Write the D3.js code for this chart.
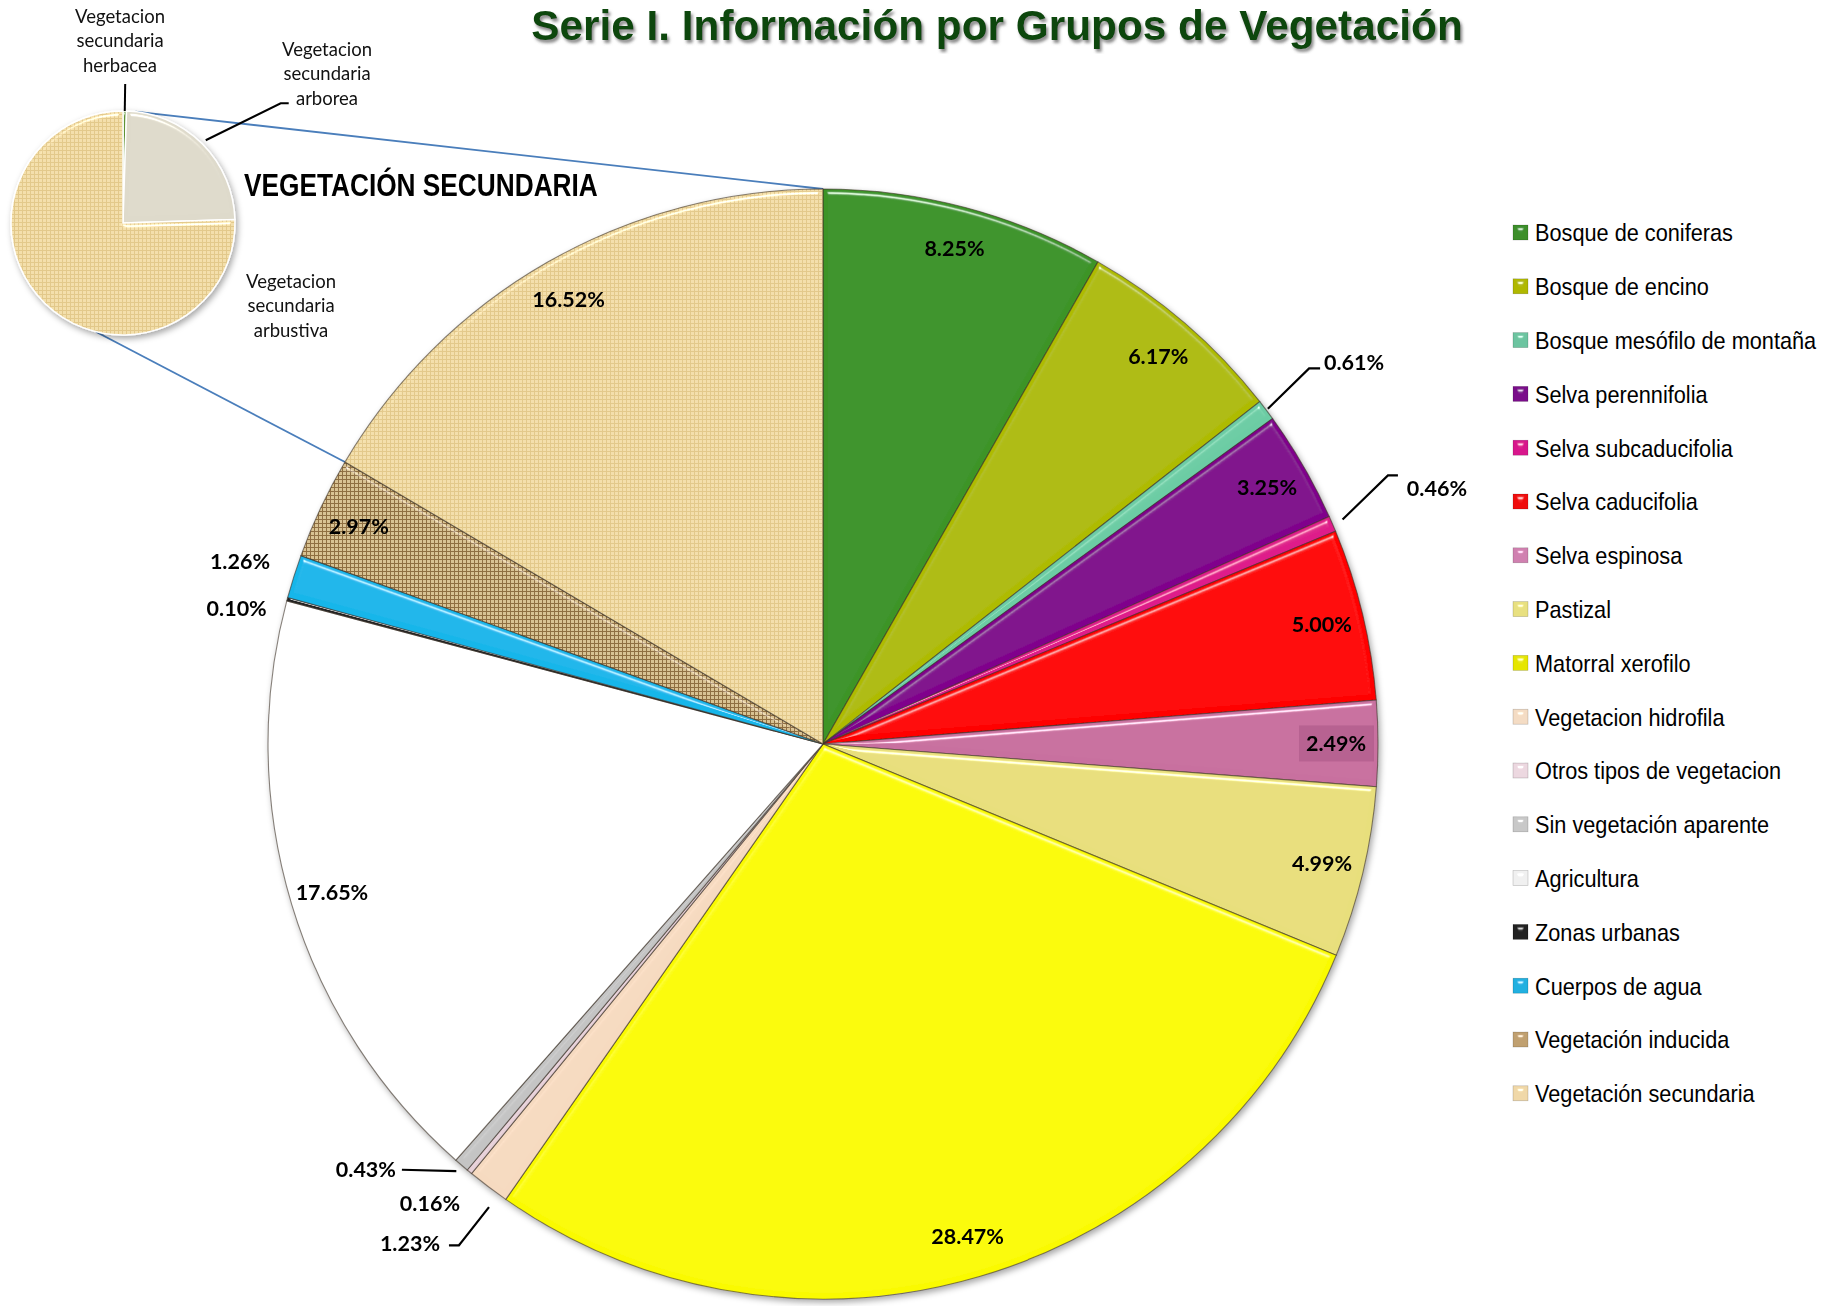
<!DOCTYPE html>
<html>
<head>
<meta charset="utf-8">
<script src="https://cdn.jsdelivr.net/npm/d3@7/dist/d3.min.js"></script>
<style>
  body { margin: 0; background: #fff; }
  .narrow { font-family: "Liberation Sans", Arial, sans-serif; }
  .calib { font-family: Lato, "Open Sans", sans-serif; }
</style>
</head>
<body>
<div id="chart"></div>
<script>

// chart data
const categories = [
  "Bosque de coniferas", "Bosque de encino", "Bosque mesófilo de montaña", "Selva perennifolia",
  "Selva subcaducifolia", "Selva caducifolia", "Selva espinosa", "Pastizal", "Matorral xerofilo",
  "Vegetacion hidrofila", "Otros tipos de vegetacion", "Sin vegetación aparente", "Agricultura",
  "Zonas urbanas", "Cuerpos de agua", "Vegetación inducida", "Vegetación secundaria"
];
const values = [8.25, 6.17, 0.61, 3.25, 0.46, 5.00, 2.49, 4.99, 28.47, 1.23, 0.16, 0.43, 17.65, 0.10, 1.26, 2.97, 16.52];
const colors = [
  "#3c9428", "#aebb04", "#6ccca4", "#80048c", "#de1c8a", "#ff0000", "#c8709f", "#e8df7c", "#fafa00",
  "#f6dac0", "#e6d0d8", "#c4c4c4", "#ffffff", "#222222", "#18b6ea", "url(#texInd)", "url(#texSec)"
];
const legendColors = [
  "#3c8f2c", "#b0b800", "#6cc4a0", "#7a0a8a", "#d8188c", "#f01010", "#d080b0", "#e8e080", "#e6e600",
  "#f4dcc4", "#ecd8e0", "#c8c8c8", "#f0f0f0", "#202020", "#20b0e0", "#c0a070", "#f0d8a8"
];

// breakdown of "Vegetación secundaria"
const subCategories = [["Vegetacion", "secundaria", "herbacea"], ["Vegetacion", "secundaria", "arborea"], ["Vegetacion", "secundaria", "arbustiva"]];
const subValues = [0.5, 24.0, 75.5];
const subColors = ["#5e9234", "#dedacb", "url(#texSec)"];

const titleText = "Serie I. Información por Grupos de Vegetación";
const subTitleText = "VEGETACIÓN SECUNDARIA";

const W = 1837, H = 1306;
const cx = 823, cy = 744, R = 555;
const scx = 123, scy = 223, sR = 112;

const svg = d3.select("#chart").append("svg")
    .attr("width", W)
    .attr("height", H);

const defs = svg.append("defs");

// woven textures
let pSec = defs.append("pattern").attr("id", "texSec")
    .attr("width", 4).attr("height", 4).attr("patternUnits", "userSpaceOnUse");
pSec.append("rect").attr("width", 4).attr("height", 4).attr("fill", "#e2c88a");
pSec.append("rect").attr("width", 3).attr("height", 3).attr("fill", "#f3dfab");

let pInd = defs.append("pattern").attr("id", "texInd")
    .attr("width", 4).attr("height", 4).attr("patternUnits", "userSpaceOnUse");
pInd.append("rect").attr("width", 4).attr("height", 4).attr("fill", "#8e6e40");
pInd.append("rect").attr("width", 3).attr("height", 3).attr("fill", "#d8c292");

// bevel lit from the top
let bevel = defs.append("filter").attr("id", "bevel")
    .attr("x", "-5%").attr("y", "-5%").attr("width", "110%").attr("height", "110%");
bevel.append("feGaussianBlur").attr("in", "SourceAlpha").attr("stdDeviation", 2.5).attr("result", "blur");
let spec = bevel.append("feSpecularLighting").attr("in", "blur")
    .attr("surfaceScale", 6).attr("specularConstant", 1.1).attr("specularExponent", 40)
    .attr("lighting-color", "#ffffff").attr("result", "spec");
spec.append("feDistantLight").attr("azimuth", 270).attr("elevation", 35);
bevel.append("feComposite").attr("in", "spec").attr("in2", "SourceAlpha").attr("operator", "in").attr("result", "specIn");
bevel.append("feComposite").attr("in", "SourceGraphic").attr("in2", "specIn")
    .attr("operator", "arithmetic").attr("k1", 0).attr("k2", 1).attr("k3", 0.65).attr("k4", 0);

let shadow = defs.append("filter").attr("id", "shadow")
    .attr("x", "-10%").attr("y", "-10%").attr("width", "120%").attr("height", "120%");
shadow.append("feDropShadow").attr("dx", 2).attr("dy", 3).attr("stdDeviation", 3)
    .attr("flood-color", "#000").attr("flood-opacity", 0.35);

let titleShadow = defs.append("filter").attr("id", "titleShadow");
titleShadow.append("feDropShadow").attr("dx", 2).attr("dy", 3).attr("stdDeviation", 1.5)
    .attr("flood-color", "#666").attr("flood-opacity", 0.75);

// angle in degrees, clockwise from 12 o'clock
function polar(x0, y0, a, r) {
    let t = a * Math.PI / 180;
    return [x0 + r * Math.sin(t), y0 - r * Math.cos(t)];
}
const deg = rad => rad * 180 / Math.PI;

// squeeze a text horizontally to a given width (stands in for Arial Narrow)
function squeeze(g, text, width) {
    let len = text.node().getComputedTextLength();
    let s = width / len;
    g.attr("transform", g.attr("transform") + ` scale(${s},1)`);
}

const data = categories.map((c, i) => ({ name: c, v: values[i], color: colors[i] }));
const pie = d3.pie().sort(null).value(d => d.v);
const arcs = pie(data);
const arc = d3.arc().innerRadius(0).outerRadius(R);
const labelArc = d3.arc().innerRadius(513).outerRadius(513);

// blue connectors to the secondary pie
const secArc = arcs[arcs.length - 1];
let connA = polar(scx, scy, 6.3, sR), connB = polar(cx, cy, deg(secArc.endAngle), R);
let connC = polar(scx, scy, 194, sR), connD = polar(cx, cy, deg(secArc.startAngle), R);
svg.append("g").selectAll("line")
    .data([[connA, connB], [connC, connD]])
    .enter().append("line")
    .attr("x1", d => d[0][0]).attr("y1", d => d[0][1])
    .attr("x2", d => d[1][0]).attr("y2", d => d[1][1])
    .attr("stroke", "#4a7ebb").attr("stroke-width", 1.8);

// main pie
let pieG = svg.append("g").attr("filter", "url(#shadow)")
    .attr("transform", `translate(${cx},${cy})`);
pieG.selectAll("path.slice")
    .data(arcs)
    .enter().append("path")
    .attr("class", "slice")
    .attr("d", arc)
    .attr("fill", d => d.data.color)
    .attr("stroke", "rgba(60,50,40,0.6)")
    .attr("stroke-width", 1.1)
    .attr("filter", "url(#bevel)");

// labels placed off the pie for the thin slices
const outLabels = {
    "Bosque mesófilo de montaña": { a: 54.3, r: 654, lead: { a: null, r: 557, pts: [[-45, 6], [-34, 6]] } },
    "Selva subcaducifolia":       { a: 67.4, r: 665, lead: { a: null, r: 566, pts: [[-49, -13], [-39, -13]] } },
    "Vegetacion hidrofila":       { a: 219.6, r: 648, lead: { a: 215.8, r: 571, pts: [[49, 2], [39, 2]] } },
    "Otros tipos de vegetacion":  { a: 220.6, r: 604 },
    "Sin vegetación aparente":    { a: 227.1, r: 624, lead: { a: null, r: 563, pts: [[36, 1]] } },
    "Zonas urbanas":              { a: 283.1, r: 602 },
    "Cuerpos de agua":            { a: 287.4, r: 611 }
};
const fmt = d3.format(".2f");

let labelG = svg.append("g").attr("class", "calib");
arcs.forEach(d => {
    let o = outLabels[d.data.name];
    let p;
    if (o) {
        p = polar(cx, cy, o.a, o.r);
        if (o.lead) {
            let mid = deg((d.startAngle + d.endAngle) / 2);
            let start = polar(cx, cy, o.lead.a === null ? mid : o.lead.a, o.lead.r);
            let pts = [start].concat(o.lead.pts.map(q => [p[0] + q[0], p[1] + q[1]]));
            labelG.append("path")
                .attr("d", d3.line()(pts))
                .attr("fill", "none").attr("stroke", "#000").attr("stroke-width", 2.2);
        }
    } else {
        let c = labelArc.centroid(d);
        p = [cx + c[0], cy + c[1]];
    }
    if (d.data.name === "Selva espinosa") {
        labelG.append("rect")
            .attr("x", p[0] - 37).attr("y", p[1] - 18)
            .attr("width", 75).attr("height", 36)
            .attr("fill", "rgba(120,40,90,0.22)");
    }
    labelG.append("text")
        .attr("x", p[0]).attr("y", p[1])
        .attr("text-anchor", "middle").attr("dominant-baseline", "central")
        .attr("font-size", 21.5).attr("font-weight", 700).attr("fill", "#000")
        .text(fmt(d.data.v) + "%");
});

// secondary pie
const subData = subValues.map((v, i) => ({ v: v, lines: subCategories[i], color: subColors[i] }));
const subArcs = pie(subData);
const subArc = d3.arc().innerRadius(0).outerRadius(sR);
let subG = svg.append("g").attr("filter", "url(#shadow)")
    .attr("transform", `translate(${scx},${scy})`);
subG.selectAll("path")
    .data(subArcs)
    .enter().append("path")
    .attr("d", subArc)
    .attr("fill", d => d.data.color)
    .attr("stroke", "#ffffff")
    .attr("stroke-width", 1.5)
    .attr("filter", "url(#bevel)");

// secondary pie labels
const subLabelPos = [[120, 16], [327, 49], [291, 281]];
let subLab = svg.append("g").attr("class", "calib");
subData.forEach((d, i) => {
    let t = subLab.append("text")
        .attr("text-anchor", "middle").attr("font-size", 18.5).attr("fill", "#111");
    d.lines.forEach((ln, j) => {
        t.append("tspan")
            .attr("x", subLabelPos[i][0])
            .attr("y", subLabelPos[i][1] + j * 24.3)
            .attr("dominant-baseline", "central")
            .text(ln);
    });
});
let herb = subArcs[0], arbo = subArcs[1];
let hMid = deg((herb.startAngle + herb.endAngle) / 2);
subLab.append("path")
    .attr("d", d3.line()([polar(scx, scy, hMid, sR), polar(scx, scy, hMid, sR + 27)]))
    .attr("stroke", "#000").attr("stroke-width", 2).attr("fill", "none");
let aMid = deg((arbo.startAngle + arbo.endAngle) / 2);
let elbow = polar(scx, scy, 52.8, 198);
subLab.append("path")
    .attr("d", d3.line()([polar(scx, scy, aMid, sR + 5), elbow, [elbow[0] + 8, elbow[1]]]))
    .attr("stroke", "#000").attr("stroke-width", 2).attr("fill", "none");

let subTitleG = svg.append("g").attr("transform", "translate(244,196)");
let subTitle = subTitleG.append("text")
    .attr("class", "narrow")
    .attr("font-size", 32).attr("font-weight", 700).attr("fill", "#000")
    .text(subTitleText);
squeeze(subTitleG, subTitle, 354);

// title
let titleG = svg.append("g").attr("transform", "translate(997,40)");
let title = titleG.append("text")
    .attr("class", "narrow")
    .attr("text-anchor", "middle")
    .attr("font-size", 43).attr("font-weight", 700)
    .attr("fill", "#0a460a")
    .attr("filter", "url(#titleShadow)")
    .text(titleText);
squeeze(titleG, title, 932);

// legend
let legend = svg.append("g").attr("transform", "translate(1513,225)");
let rows = legend.selectAll("g")
    .data(categories)
    .enter().append("g")
    .attr("transform", (d, i) => `translate(0,${i * 53.8})`);
rows.append("rect")
    .attr("width", 15).attr("height", 15)
    .attr("fill", (d, i) => legendColors[i])
    .attr("stroke", "rgba(0,0,0,0.25)").attr("stroke-width", 0.6)
    .attr("filter", "url(#bevel)");
rows.append("g")
    .attr("transform", "translate(22,8) scale(0.905,1)")
    .append("text")
    .attr("class", "narrow")
    .attr("dominant-baseline", "central")
    .attr("font-size", 24).attr("fill", "#000")
    .text(d => d);

</script>
</body>
</html>
